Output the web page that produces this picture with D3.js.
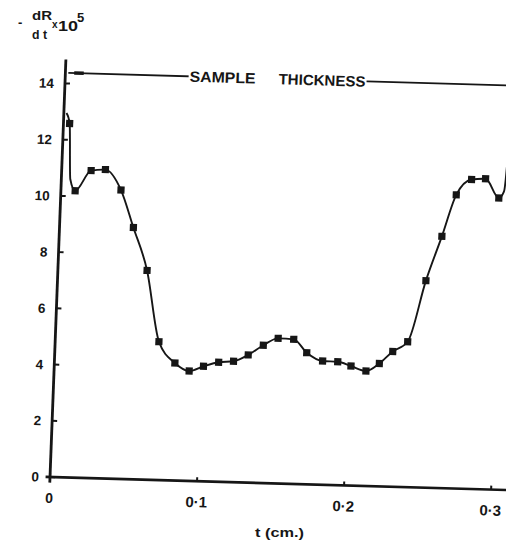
<!DOCTYPE html>
<html lang="en">
<head>
<meta charset="UTF-8">
<title>-dR/dt vs t</title>
<script src="https://cdn.jsdelivr.net/npm/d3@7/dist/d3.min.js"></script>
<style>
  body { margin: 0; background: #fff; }
  text { font-family: "Liberation Sans", Arial, sans-serif; font-weight: bold; fill: #161616; }
</style>
</head>
<body>
<script>
// measured points (t in cm, -dR/dt x 10^5)
var tVals = [0.0042, 0.0097, 0.020, 0.0297, 0.0408, 0.0502, 0.0606, 0.0705, 0.0819, 0.0918,
             0.1014, 0.1116, 0.1217, 0.1315, 0.1415, 0.1514, 0.162, 0.1712, 0.1822, 0.1925,
             0.2016, 0.2119, 0.2208, 0.2296, 0.2395, 0.2503, 0.26, 0.2687, 0.2787, 0.2882, 0.2977];
var rateVals = [12.58, 10.20, 10.93, 10.98, 10.27, 8.95, 7.44, 4.92, 4.18, 3.91,
                4.09, 4.25, 4.30, 4.54, 4.90, 5.16, 5.14, 4.68, 4.40, 4.39,
                4.25, 4.09, 4.37, 4.81, 5.17, 7.36, 8.95, 10.44, 11.0, 11.04, 10.37];
// where the drawn curve runs on past the end points (no markers there)
var curveExtraT = [0.0018, 0.0061, 0.301, 0.3028, 0.304];
var curveExtraVal = [12.95, 10.6, 10.6, 12.0, 14.0];

var yTicks = [0, 2, 4, 6, 8, 10, 12, 14];
var xTicks = [0, 0.1, 0.2, 0.3];
var xTickLabels = ["0", "0·1", "0·2", "0·3"];
var sampleLevel = 14.38;

var ink = "#161616";
var svg = d3.select("body").append("svg").attr("width", 506).attr("height", 542);

// the scanned plot is slightly skewed, so the whole frame is turned a little
var g = svg.append("g").attr("transform", "translate(50,477) rotate(1.64) skewX(-0.54)");

var x = d3.scaleLinear().domain([0, 0.3]).range([0, 441.3]);
var y = d3.scaleLinear().domain([0, 14]).range([0, -393.8]);

// axes
g.append("line").attr("x1", x(-0.003)).attr("x2", x(0.33)).attr("y1", 0).attr("y2", 0)
    .attr("stroke", ink).attr("stroke-width", 2.6);
g.append("line").attr("x1", 0).attr("x2", 0).attr("y1", y(-0.2)).attr("y2", y(14.85))
    .attr("stroke", ink).attr("stroke-width", 2.8);

// y ticks, inside
g.selectAll(".ytick").data(yTicks).enter().append("line").attr("class", "ytick")
    .attr("x1", 0).attr("x2", 5).attr("y1", function (d) { return y(d); }).attr("y2", function (d) { return y(d); })
    .attr("stroke", ink).attr("stroke-width", 2);
g.selectAll(".ylab").data(yTicks).enter().append("text").attr("class", "ylab")
    .attr("x", -11).attr("y", function (d) { return y(d); })
    .attr("dy", "0.36em").attr("text-anchor", "end").attr("font-size", "13.5px")
    .text(function (d) { return d; });

// x ticks, inside
g.selectAll(".xtick").data(xTicks).enter().append("line").attr("class", "xtick")
    .attr("x1", function (d) { return x(d); }).attr("x2", function (d) { return x(d); })
    .attr("y1", 0).attr("y2", -4).attr("stroke", ink).attr("stroke-width", 2);
g.selectAll(".xlab").data(xTicks).enter().append("text").attr("class", "xlab")
    .attr("x", function (d) { return x(d); }).attr("y", 26)
    .attr("text-anchor", "middle").attr("font-size", function (d, i) { return i > 0 ? "15px" : "14px"; })
    .text(function (d, i) { return xTickLabels[i]; });

// sample thickness bar
g.append("line").attr("x1", x(0.002)).attr("x2", x(0.33))
    .attr("y1", y(sampleLevel)).attr("y2", y(sampleLevel))
    .attr("stroke", ink).attr("stroke-width", 1.8);
g.append("line").attr("x1", x(0.006)).attr("x2", x(0.0125))
    .attr("y1", y(sampleLevel)).attr("y2", y(sampleLevel))
    .attr("stroke", ink).attr("stroke-width", 3.5);
var stG = g.append("g");
var st = stG.append("text").attr("x", x(0.0845)).attr("y", y(sampleLevel)).attr("dy", "0.36em").attr("font-size", "15px");
st.append("tspan").attr("textLength", 66).attr("lengthAdjust", "spacingAndGlyphs").text("SAMPLE");
st.append("tspan").attr("dx", 23).attr("textLength", 87).attr("lengthAdjust", "spacingAndGlyphs").text("THICKNESS");
var bb = st.node().getBBox();
stG.insert("rect", "text").attr("x", bb.x - 1).attr("y", bb.y).attr("width", bb.width + 2).attr("height", bb.height)
    .attr("fill", "#fff");

// curve + markers
var pts = tVals.map(function (t, i) { return [t, rateVals[i]]; });
var curvePts = pts.concat(curveExtraT.map(function (t, i) { return [t, curveExtraVal[i]]; }))
    .sort(function (a, b) { return a[0] - b[0]; });
var line = d3.line().x(function (d) { return x(d[0]); }).y(function (d) { return y(d[1]); })
    .curve(d3.curveMonotoneX);
g.append("path").datum(curvePts).attr("d", line)
    .attr("fill", "none").attr("stroke", ink).attr("stroke-width", 1.9);
g.selectAll(".pt").data(pts).enter().append("rect").attr("class", "pt")
    .attr("x", function (d) { return x(d[0]) - 3.6; }).attr("y", function (d) { return y(d[1]) - 3.6; })
    .attr("width", 7.2).attr("height", 7.2).attr("fill", ink);

// axis titles
svg.append("text").attr("x", 255).attr("y", 537).attr("font-size", "13px")
    .attr("textLength", 49).attr("lengthAdjust", "spacingAndGlyphs").text("t  (cm.)");

var yl = svg.append("g");
yl.append("text").attr("x", 18).attr("y", 27).attr("font-size", "13px").text("-");
yl.append("text").attr("x", 32).attr("y", 20).attr("font-size", "12px")
    .attr("textLength", 20).attr("lengthAdjust", "spacingAndGlyphs").text("dR");
yl.append("text").attr("x", 32).attr("y", 39).attr("font-size", "12px")
    .attr("textLength", 15).attr("lengthAdjust", "spacingAndGlyphs").text("d t");
yl.append("text").attr("x", 52).attr("y", 28).attr("font-size", "10px").text("x");
yl.append("text").attr("x", 58).attr("y", 31).attr("font-size", "14px")
    .attr("textLength", 20).attr("lengthAdjust", "spacingAndGlyphs").text("10");
yl.append("text").attr("x", 77).attr("y", 22).attr("font-size", "13px").text("5");
</script>
</body>
</html>
